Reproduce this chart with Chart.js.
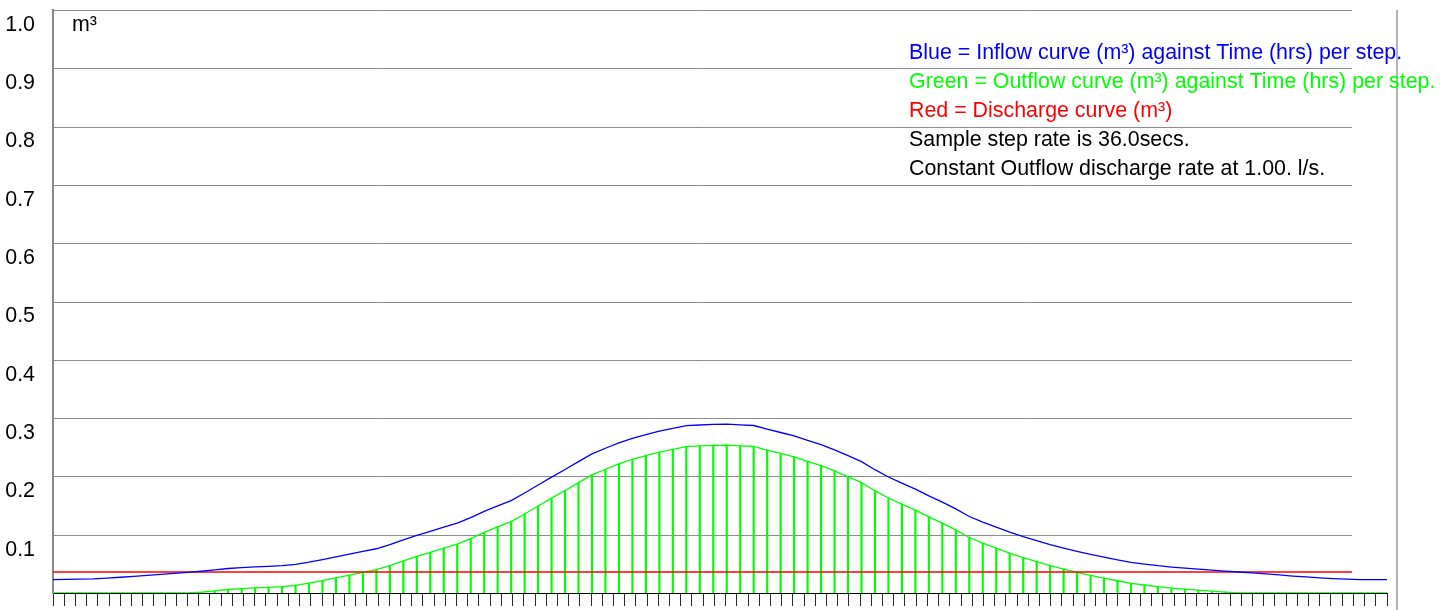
<!DOCTYPE html>
<html>
<head>
<meta charset="utf-8">
<title>Inflow / Outflow per step</title>
<script src="https://cdn.jsdelivr.net/npm/chart.js@4.4.1/dist/chart.umd.min.js"></script>
<style>
  html, body { margin: 0; padding: 0; background: #ffffff; overflow: hidden; }
  #wrap { position: relative; width: 1454px; height: 610px; }
</style>
</head>
<body>
<div id="wrap"><canvas id="chart"></canvas></div>
<script>
// ---- run settings ----
const STEP_SECS = 36.0;          // sample step rate (s)
const DISCHARGE_LPS = 1.00;      // constant outflow discharge (l/s)
const DISCHARGE_M3 = DISCHARGE_LPS * STEP_SECS / 1000;   // volume discharged per step (m³)
const STEP_COUNT = 100;
const TIME_TICK_COUNT = 120;     // marks along the time axis

// time of each step (hrs)
const timeHrs = Array.from({ length: STEP_COUNT }, (_, i) => (i * STEP_SECS / 3600).toFixed(2));

// inflow volume per step (m³)
const inflow = [
  0.0228, 0.0233, 0.0238, 0.0243, 0.0254, 0.0270, 0.0286, 0.0303, 0.0319, 0.0336,
  0.0354, 0.0373, 0.0397, 0.0420, 0.0436, 0.0447, 0.0458, 0.0471, 0.0491, 0.0528,
  0.0574, 0.0620, 0.0667, 0.0713, 0.0759, 0.0831, 0.0912, 0.0989, 0.1058, 0.1128,
  0.1198, 0.1292, 0.1400, 0.1493, 0.1585, 0.1716, 0.1853, 0.1987, 0.2119, 0.2253,
  0.2387, 0.2483, 0.2575, 0.2654, 0.2716, 0.2777, 0.2825, 0.2872, 0.2882, 0.2892,
  0.2895, 0.2883, 0.2873, 0.2812, 0.2753, 0.2694, 0.2619, 0.2545, 0.2456, 0.2357,
  0.2254, 0.2115, 0.1989, 0.1885, 0.1782, 0.1667, 0.1559, 0.1443, 0.1312, 0.1215,
  0.1130, 0.1045, 0.0967, 0.0898, 0.0829, 0.0771, 0.0714, 0.0662, 0.0615, 0.0570,
  0.0524, 0.0497, 0.0468, 0.0445, 0.0427, 0.0409, 0.0393, 0.0376, 0.0360, 0.0344,
  0.0328, 0.0312, 0.0291, 0.0275, 0.0261, 0.0248, 0.0239, 0.0230, 0.0228, 0.0228
];

// outflow volume per step (m³)
const outflow = [
  0, 0, 0, 0, 0, 0, 0, 0, 0, 0,
  0, 0.0013, 0.0037, 0.0060, 0.0076, 0.0087, 0.0098, 0.0111, 0.0131, 0.0168,
  0.0214, 0.0260, 0.0307, 0.0353, 0.0399, 0.0471, 0.0552, 0.0629, 0.0698, 0.0768,
  0.0838, 0.0932, 0.1040, 0.1133, 0.1225, 0.1356, 0.1493, 0.1627, 0.1759, 0.1893,
  0.2027, 0.2123, 0.2215, 0.2294, 0.2356, 0.2417, 0.2465, 0.2512, 0.2522, 0.2532,
  0.2535, 0.2523, 0.2513, 0.2452, 0.2393, 0.2334, 0.2259, 0.2185, 0.2096, 0.1997,
  0.1894, 0.1755, 0.1629, 0.1525, 0.1422, 0.1307, 0.1199, 0.1083, 0.0952, 0.0855,
  0.0770, 0.0685, 0.0607, 0.0538, 0.0469, 0.0411, 0.0354, 0.0302, 0.0255, 0.0210,
  0.0164, 0.0137, 0.0108, 0.0085, 0.0067, 0.0049, 0.0033, 0.0016, 0, 0,
  0, 0, 0, 0, 0, 0, 0, 0, 0, 0
];

// discharge volume per step (m³), constant
const discharge = timeHrs.map(() => DISCHARGE_M3);

// notes printed in the upper right
const notes = [
  { text: 'Blue = Inflow curve (m³) against Time (hrs) per step.', color: '#0000ff' },
  { text: 'Green = Outflow curve (m³) against Time (hrs) per step.', color: '#00ff00' },
  { text: 'Red = Discharge curve (m³)', color: '#ff0000' },
  { text: 'Sample step rate is ' + STEP_SECS.toFixed(1) + 'secs.', color: '#000000' },
  { text: 'Constant Outflow discharge rate at ' + DISCHARGE_LPS.toFixed(2) + '. l/s.', color: '#000000' }
];
const UNIT_LABEL = 'm³';

const FONT = "'Liberation Sans', Arial, Helvetica, sans-serif";
const FONT_SIZE = 21.4;
const GRID_END_X = 1352;     // horizontal rules stop short of the plot's right end
const FRAME_X = 1397;        // right-hand frame line

// horizontal rules at each value tick, plus the right frame line
const gridRules = {
  id: 'gridRules',
  beforeDatasetsDraw(chart) {
    const { ctx, chartArea, scales: { y } } = chart;
    ctx.save();
    ctx.strokeStyle = '#8c8c8c';
    ctx.lineWidth = 1;
    y.ticks.forEach(t => {
      if (t.value <= 0) return;
      const py = Math.round(y.getPixelForValue(t.value)) + 0.5;
      ctx.beginPath();
      ctx.moveTo(chartArea.left, py);
      ctx.lineTo(GRID_END_X, py);
      ctx.stroke();
    });
    ctx.strokeStyle = '#9a9a9a';
    ctx.lineWidth = 1.5;
    ctx.beginPath();
    ctx.moveTo(FRAME_X, Math.round(y.getPixelForValue(1)));
    ctx.lineTo(FRAME_X, chart.height);
    ctx.stroke();
    ctx.restore();
  }
};

// unit label and notes
const annotations = {
  id: 'annotations',
  afterDraw(chart) {
    const { ctx, chartArea } = chart;
    ctx.save();
    ctx.font = FONT_SIZE + 'px ' + FONT;
    ctx.textBaseline = 'middle';
    ctx.textAlign = 'left';
    ctx.fillStyle = '#000000';
    ctx.fillText(UNIT_LABEL, chartArea.left + 19, chartArea.top + 15);
    notes.forEach((n, i) => {
      ctx.fillStyle = n.color;
      ctx.fillText(n.text, 909, 53 + i * 29);
    });
    ctx.restore();
  }
};

new Chart(document.getElementById('chart'), {
  data: {
    labels: timeHrs,
    datasets: [
      {
        type: 'line', label: 'Inflow', data: inflow,
        borderColor: '#0000ff', borderWidth: 1.3, pointRadius: 0, tension: 0, order: 1
      },
      {
        type: 'line', label: 'Discharge', data: discharge,
        borderColor: '#ff0000', borderWidth: 1.3, pointRadius: 0, tension: 0, order: 2,
        clip: { left: 0, top: 0, right: -35, bottom: 0 }
      },
      {
        type: 'line', label: 'Outflow', data: outflow,
        borderColor: '#00ff00', borderWidth: 1.3, pointRadius: 0, tension: 0, order: 3
      },
      {
        type: 'bar', label: 'Outflow steps', data: outflow,
        backgroundColor: '#00ff00', borderWidth: 0, barThickness: 1.5, order: 4
      }
    ]
  },
  options: {
    responsive: true,
    maintainAspectRatio: false,
    animation: false,
    events: [],
    layout: { padding: { top: 10, right: 67, bottom: 0, left: 0 } },
    plugins: { legend: { display: false }, tooltip: { enabled: false } },
    scales: {
      x: {
        type: 'category',
        offset: false,
        display: false
      },
      xt: {
        type: 'linear',
        position: 'bottom',
        min: 0,
        max: TIME_TICK_COUNT - 1,
        ticks: { display: false, stepSize: 1, autoSkip: false, maxTicksLimit: 1000 },
        grid: { drawOnChartArea: false, drawTicks: true, tickLength: 13, color: '#2a2a2a', lineWidth: 1 },
        border: { display: true, color: '#000000', width: 1 },
        afterFit(axis) { axis.height = 17; }
      },
      y: {
        type: 'linear',
        min: 0,
        max: 1.0,
        ticks: {
          stepSize: 0.1,
          padding: 18,
          labelOffset: 15,
          color: '#000000',
          font: { family: FONT, size: FONT_SIZE },
          callback: v => (v <= 0 ? '' : Number(v).toFixed(1))
        },
        grid: { display: false, drawTicks: false },
        border: { display: true, color: '#8a8a8a', width: 2 },
        afterFit(axis) { axis.width = 53; axis.paddingTop = 0; axis.paddingBottom = 0; }
      }
    }
  },
  plugins: [gridRules, annotations]
});
</script>
</body>
</html>
